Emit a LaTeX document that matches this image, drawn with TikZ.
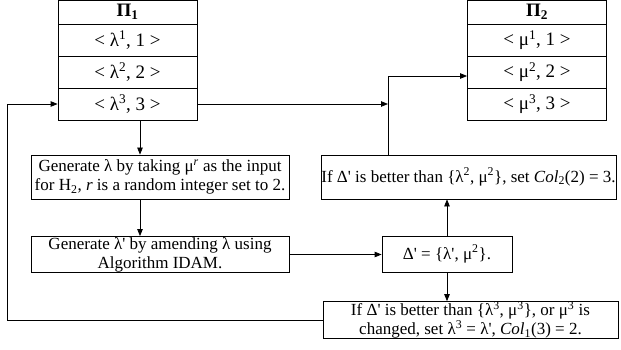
\documentclass[tikz,border=0pt]{standalone}
\usepackage{fontspec}
\setmainfont{Liberation Serif}
\usetikzlibrary{arrows.meta}
\newcommand\pq{\textquotesingle}
\begin{document}
\begin{tikzpicture}[x=1pt,y=-1pt,
  every node/.style={font=\fontsize{17}{19}\selectfont},
  cell/.style={draw,line width=0.8pt,minimum width=139pt,minimum height=32pt,inner sep=0pt,anchor=center,font=\fontsize{19}{21}\selectfont},
  head/.style={cell,minimum height=24pt},
  box/.style={draw,line width=0.8pt,align=center,inner sep=0pt,anchor=center},
  conn/.style={line width=0.8pt,-{Triangle[length=7pt,width=5.5pt]}}]
\useasboundingbox (0,0) rectangle (621,350);
% Pi1 table
\node[head] (p1h) at (127.5,12) {\textbf{Π\textsubscript{1}}};
\node[cell] (p1a) at (127.5,40) {< λ\textsuperscript{1}, 1 >};
\node[cell] (p1b) at (127.5,72) {< λ\textsuperscript{2}, 2 >};
\node[cell] (p1c) at (127.5,104) {< λ\textsuperscript{3}, 3 >};
% Pi2 table
\node[head] (p2h) at (537,12) {\textbf{Π\textsubscript{2}}};
\node[cell] (p2a) at (537,40) {< μ\textsuperscript{1}, 1 >};
\node[cell] (p2b) at (537,72) {< μ\textsuperscript{2}, 2 >};
\node[cell] (p2c) at (537,104) {< μ\textsuperscript{3}, 3 >};
% boxes
\node[box,minimum width=258pt,minimum height=44pt] (g1) at (160,177)
  {Generate λ by taking μ\textsuperscript{\textit{r}} as the input\\for H\textsubscript{2}, \textit{r} is a random integer set to 2.};
\node[box,minimum width=258pt,minimum height=36pt] (g2) at (160,254.5)
  {Generate λ\pq{} by amending λ using\\Algorithm IDAM.};
\node[box,minimum width=295pt,minimum height=44pt] (i2) at (468.5,177)
  {If Δ\pq{} is better than \{λ\textsuperscript{2}, μ\textsuperscript{2}\}, set \textit{Col}\textsubscript{2}(2) = 3.};
\node[box,minimum width=130pt,minimum height=36pt] (d) at (447,254)
  {Δ\pq{} = \{λ\pq, μ\textsuperscript{2}\}.};
\node[box,minimum width=295pt,minimum height=35pt] (i3) at (470.5,320)
  {If Δ\pq{} is better than \{λ\textsuperscript{3}, μ\textsuperscript{3}\}, or μ\textsuperscript{3} is\\changed, set λ\textsuperscript{3} = λ\pq, \textit{Col}\textsubscript{1}(3) = 2.};
% junction points
\coordinate (j) at (388,76);
\coordinate (k) at (7.5,104);
% connectors
\draw[conn] ([xshift=12.5pt]p1c.south) -- ([xshift=12.5pt]p1c.south |- g1.north);
\draw[conn] ([xshift=-20pt]g1.south) -- ([xshift=-20pt]g1.south |- g2.north);
\draw[conn] (g2.east) -- (g2.east -| d.west);
\draw[conn] (d.north) -- (d.north |- i2.south);
\draw[conn] (d.south) -- (d.south |- i3.north);
\draw[conn] (i2.north -| j) -- (j) -- (j -| p2b.west);
\draw[conn] (p1c.east) -- (p1c.east -| j);
\draw[conn] (i3.west) -- (i3.west -| k) -- (k) -- (p1c.west);
\end{tikzpicture}
\end{document}
